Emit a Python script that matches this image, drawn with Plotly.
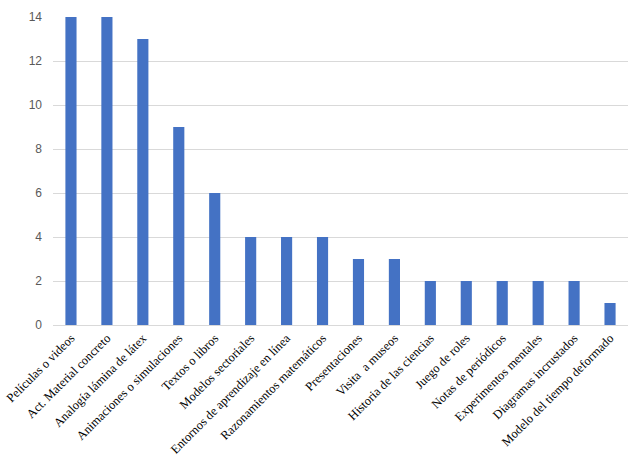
import plotly.graph_objects as go

categories = ["Películas o videos", "Act. Material concreto", "Analogía lámina de látex",
              "Animaciones o simulaciones", "Textos o libros", "Modelos sectoriales",
              "Entornos de aprendizaje en línea", "Razonamientos matemáticos", "Presentaciones",
              "Visita  a museos", "Historia de las ciencias", "Juego de roles",
              "Notas de periódicos", "Experimentos mentales", "Diagramas incrustados",
              "Modelo del tiempo deformado"]
values = [14, 14, 13, 9, 6, 4, 4, 4, 3, 3, 2, 2, 2, 2, 2, 1]
y_ticks = [0, 2, 4, 6, 8, 10, 12, 14]

fig = go.Figure(go.Bar(x=categories, y=values, marker_color="#4472C4", marker_line_width=0))
fig.update_layout(
    width=635, height=460,
    margin=dict(l=53, r=7, t=17, b=135),
    paper_bgcolor="white", plot_bgcolor="white",
    bargap=0.69, showlegend=False,
)
fig.update_xaxes(tickangle=-45, automargin=False,
                 tickfont=dict(family="Liberation Serif, Times New Roman, serif", size=12.5, color="#000000"),
                 showline=True, linecolor="#D9D9D9", ticks="", showgrid=False)
fig.update_yaxes(range=[0, 14], tickvals=y_ticks, showgrid=True, gridcolor="#D9D9D9", automargin=False,
                 tickfont=dict(family="Liberation Sans Narrow, Arial Narrow, Liberation Sans", size=12, color="#595959"),
                 zeroline=False, ticks="", ticklen=0, showline=False, ticklabelstandoff=10)
fig.write_html("out.html", config={"displayModeBar": False},
               post_script="document.body.style.margin='0px';document.body.style.overflow='hidden';")
